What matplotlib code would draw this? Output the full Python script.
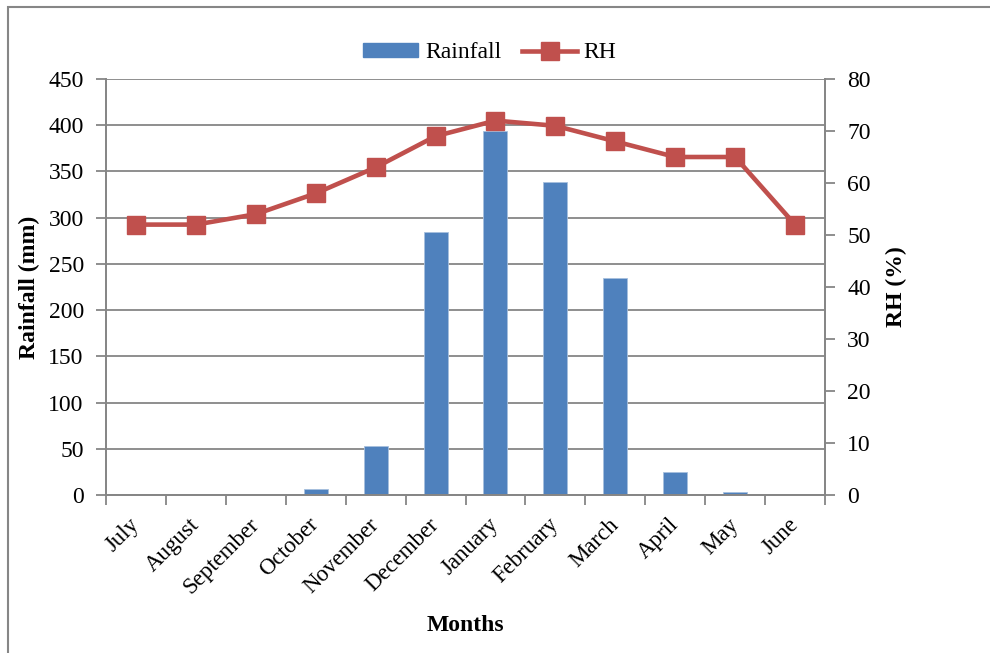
import numpy as np
import matplotlib
matplotlib.use("Agg")
import matplotlib.pyplot as plt
from matplotlib.patches import Rectangle
from matplotlib.lines import Line2D

months = ["July", "August", "September", "October", "November", "December",
          "January", "February", "March", "April", "May", "June"]
rainfall = [0, 0, 0, 7, 53, 285, 394, 339, 235, 25, 3, 0]
rh = [52, 52, 54, 58, 63, 69, 72, 71, 68, 65, 65, 52]

plt.rcParams['font.family'] = ['Liberation Serif', 'DejaVu Serif']
gray = '#868686'
blue = '#4F81BD'
red = '#C0504D'
fs = 17

fig = plt.figure(figsize=(9.9, 6.53), dpi=100)
W, H = 990, 653
ax = fig.add_axes([106 / W, 1 - 495 / H, (825 - 106) / W, (495 - 79) / H])
ax2 = ax.twinx()

# outer chart frame (cut at right/bottom like the reference)
fig.patches.append(Rectangle((8 / W, -0.1), 1.2, 1 - 7 / H + 0.1, transform=fig.transFigure,
                             fill=False, edgecolor=gray, linewidth=1.5))

x = np.arange(len(months))
ax.bar(x, rainfall, width=0.4, color=blue, edgecolor='#A7C0DE', linewidth=0.6, zorder=2)
ax.set_xlim(-0.5, len(months) - 0.5)
ax.set_ylim(0, 450)
ax.set_yticks(np.arange(0, 451, 50))
ax.yaxis.grid(True, color=gray, linewidth=1.3, zorder=0)
ax.set_axisbelow(True)

ax2.plot(x, rh, color=red, linewidth=3.3, marker='s', markersize=13.5, zorder=3)
ax2.set_ylim(0, 80)
ax2.set_yticks(np.arange(0, 81, 10))

# category ticks between bars
ax.set_xticks(x)
ax.set_xticklabels(months, rotation=45, ha='right', va='center', rotation_mode='anchor', fontsize=16.5)
ax.tick_params(axis='x', which='major', length=0, pad=19)
ax.set_xticks(np.arange(-0.5, len(months)), minor=True)
ax.tick_params(axis='x', which='minor', length=7, color=gray, width=1.3, direction='out')

for a in (ax, ax2):
    for s in a.spines.values():
        s.set_color(gray)
        s.set_linewidth(1.3)
    a.spines['top'].set_visible(False)
ax.tick_params(axis='y', length=7, color=gray, width=1.3, labelsize=fs, pad=9)
ax2.tick_params(axis='y', length=7, color=gray, width=1.3, labelsize=fs, pad=9)

ax.set_ylabel("Rainfall (mm)", fontsize=fs, fontweight='bold', labelpad=6)
ax2.set_ylabel("RH (%)", fontsize=fs, fontweight='bold', labelpad=11)
ax.set_xlabel("Months", fontsize=fs, fontweight='bold', labelpad=12)

handles = [Rectangle((0, 0), 1, 1, color=blue),
           Line2D([0], [0], color=red, linewidth=3.3, marker='s', markersize=13)]
fig.legend(handles, ["Rainfall", "RH"], loc='center', bbox_to_anchor=(490 / W, 1 - 53 / H),
           ncol=2, frameon=False, fontsize=fs, handlelength=2.3, handleheight=0.5,
           columnspacing=0.9, handletextpad=0.3)

fig.savefig("out.png", dpi=100)
